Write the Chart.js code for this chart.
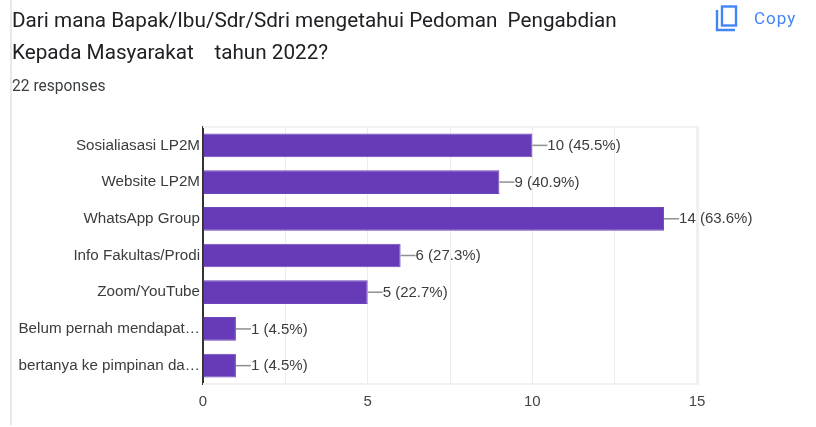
<!DOCTYPE html>
<html>
<head>
<meta charset="utf-8">
<style>
    html, body { margin: 0; padding: 0; background: #fff; overflow: hidden; }
    #page { position: relative; width: 816px; height: 427px; }
    #edge { position: absolute; left: 10px; top: 0; width: 2px; height: 425px; background: #e9e9e9; }
    #title { position: absolute; left: 12px; top: 4px; width: 680px; font: 20.7px/32px Roboto, sans-serif; color: #202124; white-space: pre; }
    #responses { position: absolute; left: 12px; top: 77px; font: 15.6px/18px Roboto, sans-serif; color: #3c4043; }
    #copy { position: absolute; left: 712px; top: 3px; width: 30px; height: 30px; }
    #copyText { position: absolute; left: 754px; top: 8px; font: 400 17px/20px Roboto, sans-serif; color: #4285f4; letter-spacing: 1px; }
    #chartBox { position: absolute; left: 0; top: 0; width: 816px; height: 427px; }
</style>
</head>
<body>
<div id="page">
    <div id="chartBox"><canvas id="chart" width="816" height="427"></canvas></div>
    <div id="edge"></div>
    <div id="title">Dari mana Bapak/Ibu/Sdr/Sdri mengetahui Pedoman  Pengabdian
Kepada Masyarakat    tahun 2022?</div>
    <div id="responses">22 responses</div>
    <svg id="copy" viewBox="0 0 30 30">
        <path d="M5 7v20h18" fill="none" stroke="#4285f4" stroke-width="2.4"/>
        <rect x="10" y="3.5" width="14" height="19" fill="none" stroke="#4285f4" stroke-width="2.4"/>
    </svg>
    <div id="copyText">Copy</div>
</div>
<script src="https://cdn.jsdelivr.net/npm/chart.js@4"></script>
<script>
const categories = ['Sosialiasasi LP2M', 'Website LP2M', 'WhatsApp Group', 'Info Fakultas/Prodi', 'Zoom/YouTube', 'Belum pernah mendapat…', 'bertanya ke pimpinan da…'];
const counts = [10, 9, 14, 6, 5, 1, 1];
const percents = ['45.5', '40.9', '63.6', '27.3', '22.7', '4.5', '4.5'];
const xTicks = [0, 2.5, 5, 7.5, 10, 12.5, 15];

// pale band along the top and bottom of the plot
const plotFrame = {
    id: 'plotFrame',
    beforeDatasetsDraw(chart) {
        const c = chart.ctx;
        const a = chart.chartArea;
        c.save();
        c.fillStyle = '#f1f1f1';
        c.fillRect(a.left, a.top - 1, a.width + 2, 2);
        c.fillRect(a.left, a.bottom - 1, a.width + 2, 2);
        c.restore();
    }
};

// leader line and "n (p%)" text after every bar
const valueLabels = {
    id: 'valueLabels',
    afterDatasetsDraw(chart) {
        const c = chart.ctx;
        const bars = chart.getDatasetMeta(0).data;
        const xScale = chart.scales.x;
        c.save();
        c.font = '15px "Liberation Sans"';
        c.textBaseline = 'middle';
        c.textAlign = 'left';
        bars.forEach(function(bar, i) {
            const x = xScale.getPixelForValue(counts[i]);
            c.strokeStyle = '#8f8f8f';
            c.lineWidth = 1.5;
            c.beginPath();
            c.moveTo(x, bar.y);
            c.lineTo(x + 15, bar.y);
            c.stroke();
            c.fillStyle = '#3c3c3c';
            c.fillText(counts[i] + ' (' + percents[i] + '%)', x + 15, bar.y + 0.5);
        });
        c.restore();
    }
};

new Chart(document.getElementById('chart'), {
    type: 'bar',
    plugins: [plotFrame, valueLabels],
    data: {
        labels: categories,
        datasets: [{
            data: counts,
            backgroundColor: '#673ab7',
            borderColor: '#6f45ba',
            borderWidth: 1,
            categoryPercentage: 1,
            barPercentage: 0.645
        }]
    },
    options: {
        indexAxis: 'y',
        responsive: false,
        animation: false,
        layout: { padding: { top: 127, left: 0, right: 119, bottom: 0 } },
        plugins: { legend: { display: false }, tooltip: { enabled: false } },
        scales: {
            x: {
                min: 0,
                max: 15,
                afterBuildTicks(scale) {
                    scale.ticks = xTicks.map(function(v) { return { value: v }; });
                },
                afterFit(scale) { scale.height = 43; },
                grid: {
                    color: function(ctx) { return ctx.tick && ctx.tick.value === 15 ? '#f0f0f0' : '#ececec'; },
                    lineWidth: function(ctx) { return ctx.tick && ctx.tick.value === 15 ? 3 : 1; },
                    drawTicks: false
                },
                border: { display: false },
                ticks: {
                    autoSkip: false,
                    maxRotation: 0,
                    padding: 9,
                    color: '#444',
                    font: { family: '"Liberation Sans"', size: 15 },
                    callback: function(v) { return v % 5 === 0 ? v : ''; }
                }
            },
            y: {
                afterFit(scale) { scale.width = 203; },
                grid: { display: false, drawTicks: false },
                border: { color: '#333', width: 2 },
                ticks: {
                    padding: 3,
                    color: '#3c3c3c',
                    font: { family: '"Liberation Sans"', size: 15.2 }
                }
            }
        }
    }
});
</script>
</body>
</html>
